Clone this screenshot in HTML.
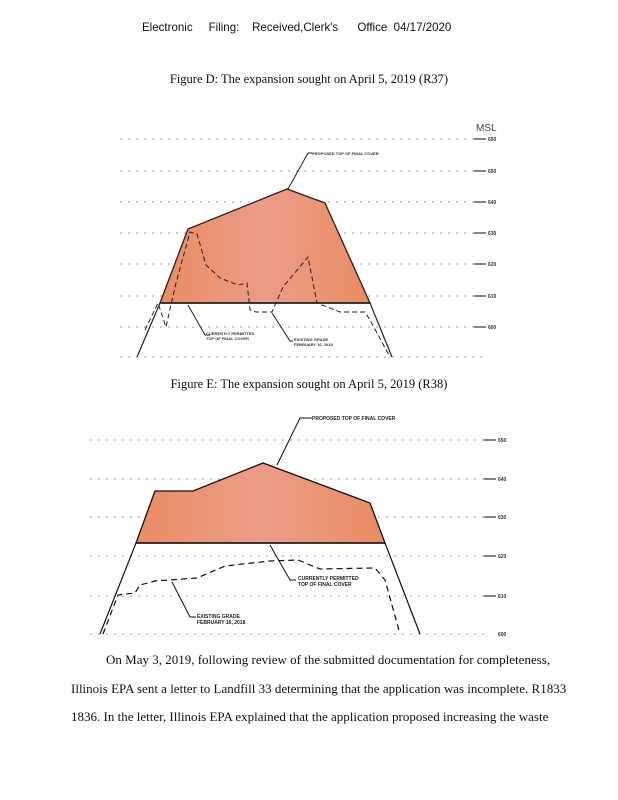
<!DOCTYPE html>
<html><head><style>
body{margin:0;background:#fff;width:618px;height:800px;position:relative;overflow:hidden}
.t{position:absolute;white-space:nowrap;font-family:"Liberation Serif",serif;color:#111}
</style></head><body>
<div class="t" style="left:142px;top:20px;font-family:'Liberation Sans',sans-serif;font-size:12px;transform:scaleX(0.96);transform-origin:left">Electronic&nbsp;&nbsp;&nbsp;&nbsp;&nbsp;Filing:&nbsp;&nbsp;&nbsp;&nbsp;Received,Clerk's&nbsp;&nbsp;&nbsp;&nbsp;&nbsp;&nbsp;Office&nbsp;&nbsp;04/17/2020</div>
<div class="t" style="left:0;width:618px;text-align:center;top:72px;font-size:12.5px">Figure D: The expansion sought on April 5, 2019 (R37)</div>
<div class="t" style="left:0;width:618px;text-align:center;top:377px;font-size:12.5px">Figure E: The expansion sought on April 5, 2019 (R38)</div>
<svg width="618" height="800" style="position:absolute;left:0;top:0" font-family="Liberation Sans,sans-serif">
<defs><linearGradient id="g" x1="0" x2="1"><stop offset="0" stop-color="#e98c62"/><stop offset="0.5" stop-color="#eb9c88"/><stop offset="1" stop-color="#e98c62"/></linearGradient></defs>
<g stroke="#999" stroke-width="1" stroke-dasharray="2 6">
<line x1="120" y1="139" x2="485" y2="139"/><line x1="120" y1="171" x2="485" y2="171"/><line x1="120" y1="202" x2="485" y2="202"/><line x1="120" y1="233" x2="485" y2="233"/><line x1="120" y1="264" x2="485" y2="264"/><line x1="120" y1="296" x2="485" y2="296"/><line x1="120" y1="327" x2="485" y2="327"/><line x1="120" y1="357" x2="485" y2="357"/>
<line x1="90" y1="440" x2="485" y2="440"/><line x1="90" y1="479" x2="485" y2="479"/><line x1="90" y1="517" x2="485" y2="517"/><line x1="90" y1="556" x2="485" y2="556"/><line x1="90" y1="596" x2="485" y2="596"/><line x1="90" y1="634" x2="485" y2="634"/>
</g>
<g stroke="#333" stroke-width="1.2">
<line x1="474" y1="139" x2="486" y2="139"/><line x1="474" y1="171" x2="486" y2="171"/><line x1="474" y1="202" x2="486" y2="202"/><line x1="474" y1="233" x2="486" y2="233"/><line x1="474" y1="264" x2="486" y2="264"/><line x1="474" y1="296" x2="486" y2="296"/><line x1="474" y1="327" x2="486" y2="327"/>
<line x1="484" y1="440" x2="496" y2="440"/><line x1="484" y1="479" x2="496" y2="479"/><line x1="484" y1="517" x2="496" y2="517"/><line x1="484" y1="556" x2="496" y2="556"/><line x1="484" y1="596" x2="496" y2="596"/>
</g>
<g font-size="5" font-weight="bold" fill="#333">
<text x="488" y="141">650</text><text x="488" y="173">650</text><text x="488" y="204">640</text><text x="488" y="235">630</text><text x="488" y="266">620</text><text x="488" y="298">610</text><text x="488" y="329">600</text>
<text x="498" y="442">650</text><text x="498" y="481">640</text><text x="498" y="519">630</text><text x="498" y="558">620</text><text x="498" y="598">610</text><text x="498" y="636">600</text>
</g>
<text x="476" y="131" font-size="10" fill="#444">MSL</text>
<polygon points="160,303 188,229 287,189 325,203 370,303" fill="url(#g)" stroke="#222" stroke-width="1.3"/>
<line x1="160" y1="303" x2="370" y2="303" stroke="#111" stroke-width="1.5"/>
<polyline points="160,303 137,357" fill="none" stroke="#222" stroke-width="1.2"/>
<polyline points="370,303 392,357" fill="none" stroke="#222" stroke-width="1.2"/>
<polyline points="145,330 158,303 166,327 176,283 190,232 197,234 206,265 220,278 238,285 247,283 250,310 256,312 272,312 283,287 308,257 317,303 340,312 365,312 370,320 390,357" fill="none" stroke="#222" stroke-width="1" stroke-dasharray="5 3"/>
<polyline points="288,189 308,153 312,153" fill="none" stroke="#222"/>
<polyline points="188,305 205,335 210,335" fill="none" stroke="#222"/>
<polyline points="272,313 290,341 293,341" fill="none" stroke="#222"/>
<g font-size="4" font-weight="bold" fill="#333">
<text x="312" y="155">PROPOSED TOP OF FINAL COVER</text>
<text x="206" y="335">CURRENTLY PERMITTED</text><text x="206" y="340">TOP OF FINAL COVER</text>
<text x="294" y="341">EXISTING GRADE</text><text x="294" y="346">FEBRUARY 16, 2018</text>
</g>
<polygon points="136,543 155,491 193,491 263,463 370,503 385,543" fill="url(#g)" stroke="#111" stroke-width="1.3"/>
<line x1="136" y1="543" x2="385" y2="543" stroke="#111" stroke-width="1.5"/>
<line x1="136" y1="543" x2="100" y2="634" stroke="#111" stroke-width="1.2"/>
<line x1="385" y1="543" x2="420" y2="634" stroke="#111" stroke-width="1.2"/>
<polyline points="103,634 118,595 135,593 140,585 155,581 197,578 225,566 270,561 298,560 320,569 375,568 385,580 400,634" fill="none" stroke="#111" stroke-width="1.2" stroke-dasharray="6 4"/>
<polyline points="277,465 300,418 312,418" fill="none" stroke="#111"/>
<polyline points="270,545 290,580 296,580" fill="none" stroke="#111"/>
<polyline points="172,582 190,617 196,617" fill="none" stroke="#111"/>
<g font-size="5" font-weight="bold" fill="#222">
<text x="312" y="420">PROPOSED TOP OF FINAL COVER</text>
<text x="298" y="580">CURRENTLY PERMITTED</text><text x="298" y="586">TOP OF FINAL COVER</text>
<text x="197" y="618">EXISTING GRADE</text><text x="197" y="624">FEBRUARY 16, 2018</text>
</g>
</svg>
<div class="t" style="left:106px;top:652px;font-size:13px">On May 3, 2019, following review of the submitted documentation for completeness,</div>
<div class="t" style="left:71px;top:681px;font-size:13px">Illinois EPA sent a letter to Landfill 33 determining that the application was incomplete. R1833</div>
<div class="t" style="left:71px;top:709px;font-size:13px">1836. In the letter, Illinois EPA explained that the application proposed increasing the waste</div>
</body></html>
